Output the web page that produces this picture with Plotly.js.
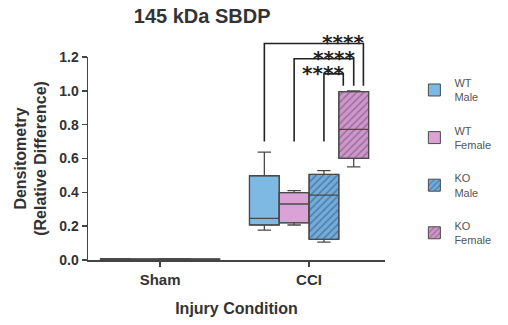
<!DOCTYPE html>
<html>
<head>
<meta charset="utf-8">
<script src="https://cdn.plot.ly/plotly-3.0.1.min.js"></script>
<style>html,body{margin:0;padding:0;background:#fff;}#chart{width:508px;height:325px;}</style>
</head>
<body>
<div id="chart"></div>
<script>
// Categories and series
const categories = ['Sham', 'CCI'];
const seriesNames = ['WT<br>Male', 'WT<br>Female', 'KO<br>Male', 'KO<br>Female'];
// Box statistics per series: [Sham, CCI]
const wtMaleMin = [0.003, 0.177];
const wtMaleQ1 = [0.003, 0.207];
const wtMaleMed = [0.005, 0.246];
const wtMaleQ3 = [0.008, 0.498];
const wtMaleMax = [0.008, 0.638];

const wtFemaleMin = [0.002, 0.207];
const wtFemaleQ1 = [0.002, 0.220];
const wtFemaleMed = [0.004, 0.331];
const wtFemaleQ3 = [0.006, 0.398];
const wtFemaleMax = [0.006, 0.410];

const koMaleMin = [0.003, 0.106];
const koMaleQ1 = [0.003, 0.122];
const koMaleMed = [0.005, 0.384];
const koMaleQ3 = [0.008, 0.506];
const koMaleMax = [0.008, 0.528];

const koFemaleMin = [0.002, 0.551];
const koFemaleQ1 = [0.002, 0.601];
const koFemaleMed = [0.004, 0.772];
const koFemaleQ3 = [0.006, 0.995];
const koFemaleMax = [0.006, 1.000];

// Significance comparisons (CCI): left box index, level, label
const sigLeftIndex = [0, 1, 2];
const sigLevel = [1.28, 1.19, 1.10];
const sigLabel = ['****', '****', '****'];

const stats = [
  {min: wtMaleMin, q1: wtMaleQ1, med: wtMaleMed, q3: wtMaleQ3, max: wtMaleMax},
  {min: wtFemaleMin, q1: wtFemaleQ1, med: wtFemaleMed, q3: wtFemaleQ3, max: wtFemaleMax},
  {min: koMaleMin, q1: koMaleQ1, med: koMaleMed, q3: koMaleQ3, max: koMaleMax},
  {min: koFemaleMin, q1: koFemaleQ1, med: koFemaleMed, q3: koFemaleQ3, max: koFemaleMax}
];
const fills = ['#7db9e3', '#dba2d6', '#72acd8', '#cd98c8'];
const hatch = ['', '', '/', '/'];
const hatchColor = ['#333', '#333', '#2d4a78', '#6e4276'];
const edge = '#4a4a4a';

const traces = [];
stats.forEach((s, i) => {
  traces.push({
    type: 'bar', x: categories, base: s.q1,
    y: s.q3.map((v, k) => v - s.q1[k]),
    name: seriesNames[i], legendgroup: 'g' + i,
    marker: {
      color: fills[i],
      line: {color: edge, width: 1},
      pattern: hatch[i] ? {shape: hatch[i], fillmode: 'overlay', fgcolor: hatchColor[i], bgcolor: fills[i], size: 5, solidity: 0.3} : {shape: ''}
    },
    hoverinfo: 'skip'
  });
});
stats.forEach((s, i) => {
  traces.push({
    type: 'box', x: categories, q1: s.q1, median: s.med, q3: s.q3,
    lowerfence: s.min, upperfence: s.max,
    name: seriesNames[i], legendgroup: 'g' + i, showlegend: false,
    fillcolor: 'rgba(0,0,0,0)', line: {color: edge, width: 1.3},
    whiskerwidth: 0.45, boxpoints: false
  });
});

const xRange = [-0.484, 1.51];
const yRange = [0, 1.2];
const toPx = v => (v - xRange[0]) / (xRange[1] - xRange[0]);
const toPy = v => (v - yRange[0]) / (yRange[1] - yRange[0]);
const slotWidth = 0.2;
const slotCenter = j => 1 + (j - 1.5) * slotWidth;
const rightLegs = [1.365, 1.30, 1.23];
const leftLegBottom = 0.70;
const rightLegBottom = 1.03;

const shapes = [];
const annotations = [];
sigLeftIndex.forEach((j, k) => {
  const xl = toPx(slotCenter(j));
  const xr = toPx(rightLegs[k]);
  const yt = toPy(sigLevel[k]);
  shapes.push({
    type: 'path', xref: 'paper', yref: 'paper',
    path: `M${xl},${toPy(leftLegBottom)} L${xl},${yt} L${xr},${yt} L${xr},${toPy(rightLegBottom)}`,
    line: {color: '#222', width: 1.6}
  });
  annotations.push({
    xref: 'paper', yref: 'paper', x: xr, y: yt, xanchor: 'right', yanchor: 'middle',
    text: sigLabel[k], showarrow: false, yshift: 1, xshift: 3,
    font: {family: 'DejaVu Sans, Liberation Sans', size: 20, weight: 'bold', color: '#222'}
  });
});

const layout = {
  width: 508, height: 325,
  margin: {l: 88, r: 115, t: 57, b: 65},
  paper_bgcolor: '#fff', plot_bgcolor: '#fff',
  font: {family: 'Liberation Sans, Arial, sans-serif', color: '#333'},
  title: {text: '145 kDa SBDP', x: 0.398, xanchor: 'center', y: 0.952, yanchor: 'middle',
          font: {size: 20, weight: 'bold', color: '#333'}},
  barmode: 'group', bargap: 0.2, bargroupgap: 0,
  boxmode: 'group', boxgap: 0.2, boxgroupgap: 0,
  xaxis: {
    type: 'category', range: xRange, automargin: false, showline: true, linecolor: '#444', linewidth: 1.5,
    ticks: 'outside', ticklen: 5, tickcolor: '#444', tickwidth: 1.5,
    showgrid: false, zeroline: false,
    tickfont: {size: 15, weight: 'bold', color: '#333'},
    title: {text: 'Injury Condition', font: {size: 16, weight: 'bold', color: '#333'}, standoff: 16}
  },
  yaxis: {
    range: yRange, dtick: 0.2, tickformat: '.1f', automargin: false, showline: true, linecolor: '#444', linewidth: 1.5,
    ticks: 'outside', ticklen: 5, tickcolor: '#444', tickwidth: 1.5,
    showgrid: false, zeroline: false,
    tickfont: {size: 14, weight: 'bold', color: '#333'},
    title: {text: 'Densitometry<br>(Relative Difference)', font: {size: 16, weight: 'bold', color: '#333'}, standoff: 8}
  },
  legend: {
    x: 1.375, y: 0.94, xanchor: 'right', yanchor: 'top',
    traceorder: 'grouped', tracegroupgap: 16,
    font: {size: 11, color: '#555'}, bgcolor: 'rgba(0,0,0,0)'
  },
  shapes: shapes,
  annotations: annotations,
  showlegend: true
};

Plotly.newPlot('chart', traces, layout, {displayModeBar: false, staticPlot: true});
</script>
</body>
</html>
